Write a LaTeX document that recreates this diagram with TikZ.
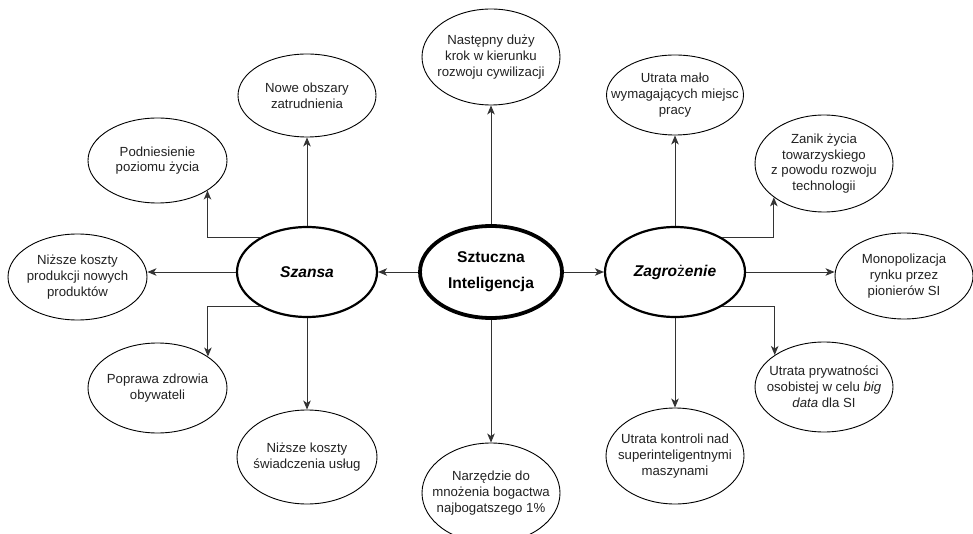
\documentclass[tikz,border=0pt]{standalone}
\usepackage{fontspec}
\setmainfont{Liberation Sans}
\usetikzlibrary{shapes.geometric,arrows.meta}
\definecolor{txt}{HTML}{222222}
\definecolor{ln}{HTML}{333333}
\begin{document}
\begin{tikzpicture}[x=1pt,y=-1pt,
  bub/.style={ellipse, draw=black, line width=0.9pt, inner xsep=-30pt, inner ysep=-30pt, align=center, text=txt, font=\fontsize{13.2}{15.8}\selectfont},
  hub/.style={bub, line width=2.2pt, font=\fontsize{15.6}{18}\selectfont\bfseries\itshape, text=black},
  core/.style={bub, line width=3.8pt, font=\fontsize{15.6}{26}\selectfont\bfseries, text=black},
  arr/.style={draw=ln, line width=0.9pt, -{Stealth[length=9pt,width=7.5pt,inset=2.5pt]}}]
\fill[white] (0,0) rectangle (973,534);
\useasboundingbox (0,0) rectangle (973,534);
% centre
\node[core, minimum width=142pt, minimum height=92pt] (si) at (491,272) {Sztuczna\\Inteligencja};
\node[hub, minimum width=140pt, minimum height=90pt] (sz) at (307,272) {Szansa};
\node[hub, minimum width=140pt, minimum height=90pt] (zg) at (675,272) {Zagro\textmd{\textup{ż}}enie};
% satellites
\node[bub, minimum width=138pt, minimum height=96pt] (nast) at (491,57) {Następny duży\\krok w kierunku\\rozwoju cywilizacji};
\node[bub, minimum width=138pt, minimum height=83pt] (nowe) at (307,95.5) {Nowe obszary\\zatrudnienia};
\node[bub, minimum width=139pt, minimum height=85pt] (podn) at (157.5,160.5) {Podniesienie\\poziomu życia};
\node[bub, minimum width=139pt, minimum height=86pt] (nprod) at (77.5,277) {Niższe koszty\\produkcji nowych\\produktów};
\node[bub, minimum width=139pt, minimum height=90pt] (popr) at (157.5,388) {Poprawa zdrowia\\obywateli};
\node[bub, minimum width=140pt, minimum height=94pt] (nsw) at (307,457) {Niższe koszty\\świadczenia usług};
\node[bub, minimum width=138pt, minimum height=100pt] (narz) at (491,493) {Narzędzie do\\mnożenia bogactwa\\najbogatszego 1\%};
\node[bub, minimum width=137pt, minimum height=80pt] (umalo) at (675,95) {Utrata mało\\wymagających miejsc\\pracy};
\node[bub, minimum width=138pt, minimum height=97pt] (zanik) at (824,163.5) {Zanik życia\\towarzyskiego\\z powodu rozwoju\\technologii};
\node[bub, minimum width=138pt, minimum height=86pt] (mono) at (904,276) {Monopolizacja\\rynku przez\\pionierów SI};
\node[bub, minimum width=138pt, minimum height=90pt] (pryw) at (824,387) {Utrata prywatności\\osobistej w celu \textit{big}\\\textit{data} dla SI};
\node[bub, minimum width=138pt, minimum height=96pt] (kontr) at (675,456) {Utrata kontroli nad\\superinteligentnymi\\maszynami};
% connectors
\draw[arr] (si.west) -- (sz.east);
\draw[arr] (si.east) -- (zg.west);
\draw[arr] (si.north) -- (nast.south);
\draw[arr] (si.south) -- (narz.north);
\draw[arr] (sz.north) -- (nowe.south);
\draw[arr] (sz.south) -- (nsw.north);
\draw[arr] (sz.west) -- (nprod.east |- sz.west);
\draw[arr] (sz.143.5) -| (podn.-31);
\draw[arr] (sz.216.5) -| (popr.32.5);
\draw[arr] (zg.north) -- (umalo.south);
\draw[arr] (zg.south) -- (kontr.north);
\draw[arr] (zg.east) -- (mono.west |- zg.east);
\draw[arr] (zg.36.5) -| (zanik.214.8);
\draw[arr] (zg.-36.5) -| (pryw.147.1);
\end{tikzpicture}
\end{document}
